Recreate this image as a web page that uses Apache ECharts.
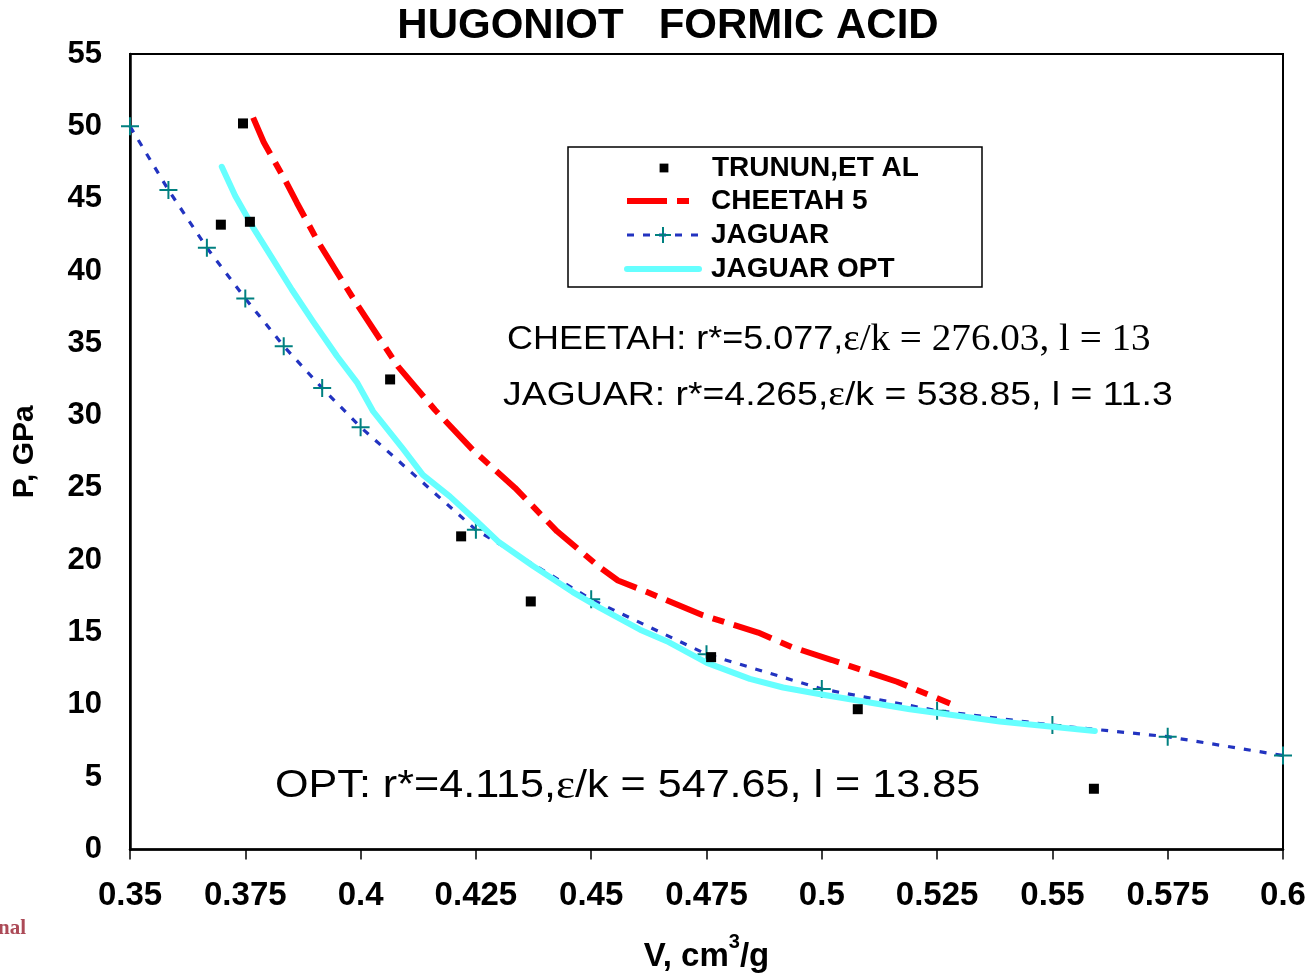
<!DOCTYPE html>
<html>
<head>
<meta charset="utf-8">
<script src="https://cdn.jsdelivr.net/npm/echarts@6/dist/echarts.min.js"></script>
<style>
  html, body { margin: 0; padding: 0; background: #fff; }
  #chart { width: 1311px; height: 978px; }
</style>
</head>
<body>
<div id="chart"></div>
<script>
// ---- data ----
const xTickLabels = ['0.35', '0.375', '0.4', '0.425', '0.45', '0.475', '0.5', '0.525', '0.55', '0.575', '0.6'];
const yTickLabels = ['0', '5', '10', '15', '20', '25', '30', '35', '40', '45', '50', '55'];

const trununV = [0.3745, 0.3697, 0.3760, 0.4064, 0.4218, 0.4369, 0.4760, 0.5078, 0.5590];
const trununP = [50.2, 43.2, 43.4, 32.5, 21.65, 17.15, 13.3, 9.7, 4.2];

const cheetahV = [0.3767, 0.3790, 0.3836, 0.3862, 0.3908, 0.3988, 0.4081, 0.4161, 0.4244, 0.4335, 0.4426, 0.4519, 0.4558, 0.4621, 0.4742, 0.4862, 0.4935, 0.5022, 0.5163, 0.5278];
const cheetahP = [50.6, 48.9, 46.3, 44.7, 42.0, 37.9, 33.4, 30.4, 27.6, 25.0, 22.0, 19.5, 18.6, 17.8, 16.2, 15.0, 14.0, 13.1, 11.6, 10.1];

const jaguarV = [0.35, 0.35833, 0.36667, 0.375, 0.38333, 0.39167, 0.4, 0.425, 0.45, 0.475, 0.5, 0.525, 0.55, 0.575, 0.6];
const jaguarP = [50.0, 45.6, 41.6, 38.1, 34.8, 31.9, 29.2, 22.1, 17.3, 13.5, 11.1, 9.6, 8.6, 7.8, 6.5];

const optV = [0.3699, 0.3728, 0.3767, 0.3810, 0.3851, 0.3897, 0.3949, 0.3992, 0.4027, 0.4092, 0.4135, 0.4194, 0.4252, 0.4298, 0.4374, 0.4460, 0.4519, 0.4606, 0.4664, 0.4751, 0.4844, 0.4916, 0.5003, 0.5191, 0.5386, 0.5592];
const optP = [47.2, 45.2, 43.0, 40.8, 38.7, 36.5, 34.1, 32.3, 30.3, 27.7, 25.9, 24.4, 22.7, 21.3, 19.6, 17.8, 16.7, 15.2, 14.4, 12.9, 11.8, 11.2, 10.7, 9.7, 8.85, 8.2];

const seriesNames = ['TRUNUN,ET AL', 'CHEETAH 5', 'JAGUAR', 'JAGUAR OPT'];

// ---- build option ----
const pair = (xs, ys) => xs.map((x, i) => [x, ys[i]]);
const xTicks = xTickLabels.map(Number);
const yTicks = yTickLabels.map(Number);
const xInterval = Math.round((xTicks[1] - xTicks[0]) * 1000) / 1000;
const yInterval = yTicks[1] - yTicks[0];
const nearestLabel = (labels, ticks) => (v) => {
  let best = 0;
  ticks.forEach((t, i) => { if (Math.abs(t - v) < Math.abs(ticks[best] - v)) best = i; });
  return labels[best];
};

const SANS = 'Arial, "Liberation Sans", Helvetica, sans-serif';
const SERIF = '"Times New Roman", "Liberation Serif", serif';
const crossPath = 'path://M0,9L18,9M9,0L9,18';
const legendText = { fontFamily: SANS, fontWeight: 'bold', fontSize: 28, lineHeight: 26, color: '#000', padding: [0, 0, 0, 7] };

const cheetahLine = { color: '#ff0000', width: 6, type: [40, 10, 12, 10] };
const jaguarLine = { color: '#2233c0', width: 3.2, type: [7, 9] };
const optLine = { color: '#66ffff', width: 6, cap: 'round', join: 'round' };

const chart = echarts.init(document.getElementById('chart'), null, { renderer: 'canvas' });
chart.setOption({
  animation: false,
  backgroundColor: '#ffffff',
  title: {
    text: 'HUGONIOT   FORMIC ACID',
    left: 668,
    textAlign: 'center',
    top: 5,
    padding: 0,
    textStyle: { fontFamily: SANS, fontWeight: 'bold', fontSize: 42, color: '#000' }
  },
  grid: {
    left: 130, right: 28, top: 54, bottom: 128,
    show: true, borderColor: '#000', borderWidth: 2, backgroundColor: 'transparent'
  },
  legend: [
    {
      data: [seriesNames[0]],
      orient: 'vertical',
      left: 628, top: 154,
      padding: 0,
      itemWidth: 72, itemHeight: 11,
      selectedMode: false,
      textStyle: legendText
    },
    {
      data: [
        { name: seriesNames[1], itemStyle: { opacity: 0 }, lineStyle: cheetahLine },
        { name: seriesNames[2], lineStyle: jaguarLine },
        { name: seriesNames[3], itemStyle: { opacity: 0 }, lineStyle: optLine }
      ],
      orient: 'vertical',
      left: 624, top: 187,
      padding: 0,
      itemGap: 6,
      itemWidth: 72, itemHeight: 20,
      selectedMode: false,
      textStyle: legendText
    }
  ],
  xAxis: {
    type: 'value',
    min: xTicks[0], max: xTicks[xTicks.length - 1], interval: xInterval,
    name: '{a|V, cm}{s|3}{a|/g}',
    nameLocation: 'middle',
    nameGap: 83,
    nameTextStyle: {
      rich: {
        a: { fontFamily: SANS, fontWeight: 'bold', fontSize: 33, lineHeight: 48, color: '#000' },
        s: { fontFamily: SANS, fontWeight: 'bold', fontSize: 20, lineHeight: 20, verticalAlign: 'top', color: '#000' }
      }
    },
    axisLine: { show: true, onZero: false, lineStyle: { color: '#000', width: 2.5 } },
    axisTick: { show: true, inside: false, length: 10, lineStyle: { color: '#000', width: 1.5 } },
    splitLine: { show: false },
    axisLabel: {
      margin: 30,
      fontFamily: SANS, fontWeight: 'bold', fontSize: 33, color: '#000',
      formatter: nearestLabel(xTickLabels, xTicks)
    }
  },
  yAxis: {
    type: 'value',
    min: yTicks[0], max: yTicks[yTicks.length - 1], interval: yInterval,
    name: 'P, GPa',
    nameLocation: 'middle',
    nameGap: 90,
    nameTextStyle: { fontFamily: SANS, fontWeight: 'bold', fontSize: 30, color: '#000' },
    axisLine: { show: true, onZero: false, lineStyle: { color: '#000', width: 2.5 } },
    axisTick: { show: false },
    splitLine: { show: false },
    axisLabel: {
      margin: 28,
      fontFamily: SANS, fontWeight: 'bold', fontSize: 31, color: '#000',
      formatter: nearestLabel(yTickLabels, yTicks)
    }
  },
  series: [
    {
      name: seriesNames[2],
      type: 'line',
      data: pair(jaguarV, jaguarP),
      z: 2,
      silent: true,
      symbol: crossPath,
      symbolSize: 18,
      showSymbol: true,
      itemStyle: { color: 'rgba(0,0,0,0)', borderColor: '#008080', borderWidth: 2 },
      lineStyle: jaguarLine,
      emphasis: { disabled: true }
    },
    {
      name: seriesNames[1],
      type: 'line',
      data: pair(cheetahV, cheetahP),
      z: 3,
      silent: true,
      symbol: 'none',
      itemStyle: { color: 'rgba(0,0,0,0)' },
      lineStyle: cheetahLine,
      emphasis: { disabled: true }
    },
    {
      name: seriesNames[3],
      type: 'line',
      data: pair(optV, optP),
      z: 4,
      silent: true,
      symbol: 'none',
      itemStyle: { color: 'rgba(0,0,0,0)' },
      lineStyle: optLine,
      emphasis: { disabled: true }
    },
    {
      name: seriesNames[0],
      type: 'line',
      data: pair(trununV, trununP),
      z: 5,
      silent: true,
      symbol: 'rect',
      symbolSize: 10,
      showSymbol: true,
      itemStyle: { color: '#000' },
      lineStyle: { width: 0, opacity: 0 },
      emphasis: { disabled: true }
    }
  ],
  graphic: [
    {
      type: 'rect', silent: true, z: 100,
      shape: { x: 568, y: 147, width: 414, height: 140 },
      style: { fill: 'none', stroke: '#000', lineWidth: 1.5 }
    },
    {
      type: 'text', silent: true, z: 100,
      x: 507, y: 340, scaleX: 1.058,
      style: {
        text: '{a|CHEETAH: r*=5.077,}{b|ε/k = 276.03, l = 13}',
        verticalAlign: 'middle',
        rich: {
          a: { fontFamily: SANS, fontSize: 34, fill: '#000', lineHeight: 40 },
          b: { fontFamily: SERIF, fontSize: 37, fill: '#000', lineHeight: 40 }
        }
      }
    },
    {
      type: 'text', silent: true, z: 100,
      x: 503, y: 396, scaleX: 1.10,
      style: {
        text: '{a|JAGUAR: r*=4.265,}{b|ε}{a|/k = 538.85, l = 11.3}',
        verticalAlign: 'middle',
        rich: {
          a: { fontFamily: SANS, fontSize: 34, fill: '#000', lineHeight: 40 },
          b: { fontFamily: SERIF, fontSize: 36, fill: '#000', lineHeight: 40 }
        }
      }
    },
    {
      type: 'text', silent: true, z: 100,
      x: 275, y: 787, scaleX: 1.135,
      style: {
        text: '{a|OPT: r*=4.115,}{b|ε}{a|/k = 547.65, l = 13.85}',
        verticalAlign: 'middle',
        rich: {
          a: { fontFamily: SANS, fontSize: 38, fill: '#000', lineHeight: 44 },
          b: { fontFamily: SERIF, fontSize: 40, fill: '#000', lineHeight: 44 }
        }
      }
    },
    {
      type: 'text', silent: true, z: 100,
      x: -2, y: 929,
      style: {
        text: 'nal',
        verticalAlign: 'middle',
        font: 'bold 21px "Liberation Serif", serif',
        fill: '#9e2a3a',
        opacity: 0.85
      }
    }
  ]
});
</script>
</body>
</html>
